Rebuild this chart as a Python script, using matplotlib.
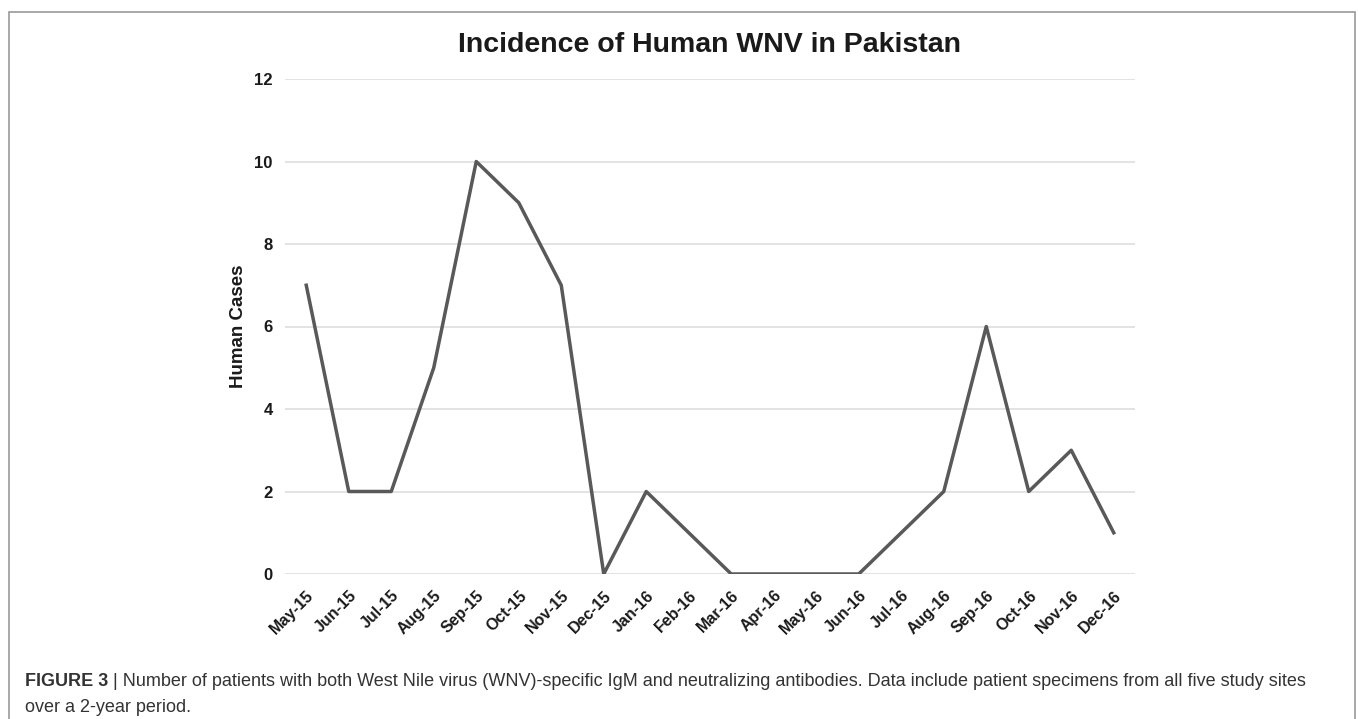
import matplotlib
matplotlib.use("Agg")
import matplotlib.pyplot as plt
from matplotlib.patches import Rectangle

months = ["May-15", "Jun-15", "Jul-15", "Aug-15", "Sep-15", "Oct-15", "Nov-15", "Dec-15",
          "Jan-16", "Feb-16", "Mar-16", "Apr-16", "May-16", "Jun-16", "Jul-16", "Aug-16",
          "Sep-16", "Oct-16", "Nov-16", "Dec-16"]
cases = [7, 2, 2, 5, 10, 9, 7, 0, 2, 1, 0, 0, 0, 0, 1, 2, 6, 2, 3, 1]
yticks = [0, 2, 4, 6, 8, 10, 12]

title = "Incidence of Human WNV in Pakistan"
cap_bold = "FIGURE 3"
cap_rest = " | Number of patients with both West Nile virus (WNV)-specific IgM and neutralizing antibodies. Data include patient specimens from all five study sites"
cap_line2 = "over a 2-year period."

plt.rcParams['font.family'] = ['Liberation Sans', 'DejaVu Sans']

W, H = 1358, 719
fig = plt.figure(figsize=(W / 100, H / 100), dpi=100)

ax = fig.add_axes([285 / W, 1 - 574 / H, (1135 - 285) / W, (574 - 79) / H])
x = list(range(len(months)))
ax.plot(x, cases, color="#595959", lw=2.5, solid_joinstyle="round", zorder=3)
ax.set_xlim(-0.5, len(months) - 0.5)
ax.set_ylim(0, 12)
ax.set_yticks(yticks)
ax.set_yticklabels([str(v) for v in yticks], fontsize=12, fontweight="bold", color="#1a1a1a")
ax.set_xticks(x)
ax.set_xticklabels(months, rotation=45, ha="right", va="top", rotation_mode="anchor",
                   fontsize=11.5, fontweight="bold", color="#1a1a1a")
ax.tick_params(axis="both", length=0)
ax.tick_params(axis="y", pad=9)
ax.tick_params(axis="x", pad=10)
for s in ax.spines.values():
    s.set_visible(False)
ax.grid(axis="y", color="#e0e0e0", lw=1.3)
ax.set_axisbelow(True)
ax.set_ylabel("Human Cases", fontsize=13.5, fontweight="bold", color="#1a1a1a", labelpad=5)

fig.text(710 / W, 1 - 45 / H, title, ha="center", va="center",
         fontsize=20.5, fontweight="bold", color="#1a1a1a")

# frame
fig.patches.append(Rectangle((9 / W, -0.05), (1355 - 9) / W, 1.05 - 12 / H,
                             transform=fig.transFigure, fill=False, edgecolor="#9a9a9a",
                             lw=1.2, zorder=0))

cap_fs = 13
y1 = 1 - 686 / H
y2 = 1 - 712 / H
t1 = fig.text(25 / W, y1, cap_bold, ha="left", va="baseline", fontsize=cap_fs,
              fontweight="bold", color="#333333")
r = fig.canvas.get_renderer()
bb = t1.get_window_extent(renderer=r)
fig.text(bb.x1 / W, y1, cap_rest, ha="left", va="baseline", fontsize=cap_fs, color="#333333")
fig.text(25 / W, y2, cap_line2, ha="left", va="baseline", fontsize=cap_fs, color="#333333")

fig.savefig("out.png", dpi=100)
